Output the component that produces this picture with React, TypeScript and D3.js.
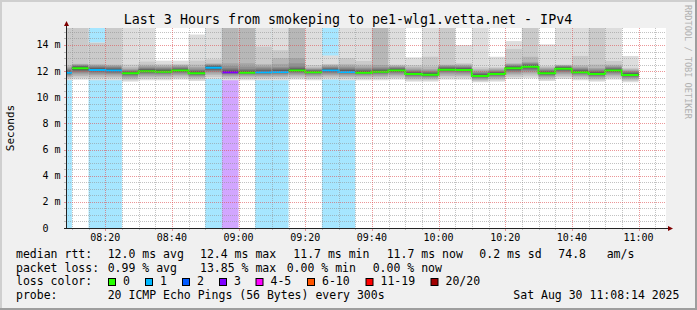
import React from 'react';
import * as d3 from 'd3';

const W = 697;
const H = 310;

const titleText = 'Last 3 Hours from smokeping to pe1-wlg1.vetta.net - IPv4';
const yAxisTitle = 'Seconds';
const watermark = 'RRDTOOL / TOBI OETIKER';

// window of the graph (UTC minutes used just as clock values)
const windowStart = '08:08:14';
const windowEnd = '11:08:14';

// 5-minute columns, labelled by their end time
const colEnd = [
  '08:10', '08:15', '08:20', '08:25', '08:30', '08:35', '08:40', '08:45', '08:50', '08:55',
  '09:00', '09:05', '09:10', '09:15', '09:20', '09:25', '09:30', '09:35', '09:40', '09:45',
  '09:50', '09:55', '10:00', '10:05', '10:10', '10:15', '10:20', '10:25', '10:30', '10:35',
  '10:40', '10:45', '10:50', '10:55', '11:00',
];

// number of lost pings (of 20) per column
const lossCount = [
  1, 0, 1, 1, 0, 0, 0, 0, 0, 1,
  3, 0, 1, 1, 0, 0, 1, 1, 0, 0,
  0, 0, 0, 0, 0, 0, 0, 0, 0, 0,
  0, 0, 0, 0, 0,
];

// median rtt per column (ms)
const medianMs = [
  11.88, 12.22, 12.09, 12.04, 11.84, 11.99, 11.96, 12.04, 11.84, 12.26,
  11.91, 11.88, 11.91, 11.94, 12.04, 11.91, 12.04, 11.94, 11.88, 11.96,
  12.04, 11.78, 11.73, 12.11, 12.09, 11.63, 11.78, 12.22, 12.34, 11.84,
  12.19, 11.91, 11.78, 12.04, 11.71,
];

// the 20 sorted ping times per column (ms)
const pings: number[][] = [
  [11.3, 11.42, 11.52, 11.6, 11.68, 11.75, 11.8, 11.84, 11.86, 11.87, 11.89, 11.93, 11.98, 12.05, 12.12, 12.2, 12.3, 12.45, 16, 18],
  [11.35, 11.5, 11.62, 11.75, 11.85, 11.95, 12.03, 12.1, 12.16, 12.2, 12.24, 12.28, 12.33, 12.38, 12.43, 12.48, 12.52, 12.56, 16, 18],
  [11.3, 11.45, 11.58, 11.7, 11.8, 11.9, 11.97, 12.02, 12.06, 12.08, 12.1, 12.14, 12.2, 12.26, 12.33, 12.4, 12.47, 12.55, 14.15, 14.2],
  [11.3, 11.45, 11.57, 11.68, 11.78, 11.86, 11.93, 11.98, 12.01, 12.03, 12.05, 12.1, 12.16, 12.22, 12.3, 12.37, 12.44, 12.5, 16, 18],
  [11.2, 11.3, 11.4, 11.5, 11.6, 11.68, 11.74, 11.78, 11.81, 11.83, 11.85, 11.88, 11.93, 11.98, 12.04, 12.1, 12.18, 12.3, 12.5, 17],
  [11.3, 11.42, 11.54, 11.65, 11.75, 11.83, 11.89, 11.93, 11.96, 11.98, 12.0, 12.04, 12.1, 12.16, 12.23, 12.3, 12.4, 12.5, 12.73, 17],
  [11.3, 11.42, 11.54, 11.64, 11.74, 11.81, 11.87, 11.91, 11.94, 11.95, 11.97, 12.01, 12.07, 12.13, 12.2, 12.28, 12.36, 12.45, 12.55, 12.8],
  [11.35, 11.48, 11.6, 11.7, 11.8, 11.88, 11.94, 11.98, 12.01, 12.03, 12.05, 12.09, 12.14, 12.2, 12.27, 12.34, 12.42, 12.48, 12.55, 12.8],
  [11.25, 11.36, 11.46, 11.55, 11.63, 11.7, 11.75, 11.79, 11.82, 11.83, 11.85, 11.89, 11.95, 12.02, 12.1, 12.2, 12.32, 12.5, 12.8, 14.8],
  [11.4, 11.55, 11.7, 11.82, 11.93, 12.02, 12.1, 12.16, 12.21, 12.25, 12.27, 12.31, 12.36, 12.41, 12.46, 12.5, 12.55, 12.6, 12.9, 17],
  [11.3, 11.42, 11.53, 11.63, 11.72, 11.8, 11.85, 11.88, 11.9, 11.91, 11.92, 11.96, 12.03, 12.12, 12.22, 12.4, 12.6, 16, 17, 18],
  [11.3, 11.42, 11.53, 11.63, 11.71, 11.78, 11.83, 11.86, 11.87, 11.88, 11.89, 11.93, 11.99, 12.07, 12.17, 12.35, 12.6, 16, 17, 18],
  [11.3, 11.42, 11.53, 11.63, 11.72, 11.8, 11.85, 11.88, 11.9, 11.91, 11.92, 11.96, 12.02, 12.1, 12.2, 12.3, 12.42, 12.55, 13.87, 17],
  [11.3, 11.43, 11.55, 11.65, 11.74, 11.82, 11.88, 11.91, 11.93, 11.94, 11.95, 11.99, 12.05, 12.13, 12.22, 12.32, 12.55, 13.0, 13.6, 17],
  [11.35, 11.48, 11.6, 11.7, 11.8, 11.88, 11.94, 11.98, 12.01, 12.03, 12.05, 12.1, 12.17, 12.25, 12.35, 12.6, 13.0, 16, 17, 18],
  [11.3, 11.42, 11.53, 11.63, 11.72, 11.8, 11.85, 11.88, 11.9, 11.91, 11.92, 11.96, 12.0, 12.05, 12.1, 12.16, 12.22, 12.3, 12.47, 17],
  [11.35, 11.48, 11.6, 11.7, 11.8, 11.88, 11.94, 11.98, 12.01, 12.03, 12.05, 12.09, 12.14, 12.2, 12.27, 12.34, 12.42, 12.5, 12.55, 13.2],
  [11.3, 11.43, 11.55, 11.65, 11.74, 11.82, 11.88, 11.91, 11.93, 11.94, 11.95, 11.99, 12.05, 12.12, 12.2, 12.3, 12.42, 12.55, 13.0, 17],
  [11.3, 11.42, 11.53, 11.63, 11.71, 11.78, 11.83, 11.86, 11.87, 11.88, 11.89, 11.93, 11.99, 12.06, 12.14, 12.23, 12.35, 12.5, 12.78, 17],
  [11.3, 11.42, 11.54, 11.64, 11.74, 11.81, 11.87, 11.91, 11.94, 11.95, 11.97, 12.01, 12.06, 12.12, 12.2, 12.3, 12.47, 16, 17, 18],
  [11.35, 11.48, 11.6, 11.7, 11.8, 11.88, 11.94, 11.98, 12.01, 12.03, 12.05, 12.09, 12.14, 12.2, 12.26, 12.32, 12.38, 12.44, 12.5, 17],
  [11.2, 11.3, 11.4, 11.5, 11.58, 11.65, 11.7, 11.74, 11.76, 11.77, 11.79, 11.83, 11.88, 11.95, 12.02, 12.1, 12.2, 12.33, 12.47, 13.05],
  [11.2, 11.3, 11.38, 11.46, 11.54, 11.6, 11.65, 11.69, 11.71, 11.72, 11.74, 11.78, 11.84, 11.9, 11.97, 12.05, 12.15, 12.35, 13.1, 17],
  [11.35, 11.5, 11.63, 11.75, 11.85, 11.94, 12.01, 12.06, 12.09, 12.1, 12.12, 12.16, 12.21, 12.27, 12.33, 12.4, 12.45, 12.5, 16, 18],
  [11.35, 11.5, 11.62, 11.73, 11.83, 11.92, 11.99, 12.04, 12.07, 12.08, 12.1, 12.14, 12.19, 12.25, 12.31, 12.38, 12.45, 12.52, 12.6, 14.0],
  [11.15, 11.23, 11.3, 11.37, 11.44, 11.5, 11.55, 11.59, 11.61, 11.62, 11.64, 11.68, 11.73, 11.8, 11.87, 11.95, 12.05, 12.15, 12.3, 17],
  [11.2, 11.3, 11.4, 11.5, 11.58, 11.65, 11.7, 11.74, 11.76, 11.77, 11.79, 11.83, 11.88, 11.93, 11.99, 12.06, 12.14, 12.22, 12.3, 13.1],
  [11.4, 11.55, 11.68, 11.8, 11.9, 11.99, 12.07, 12.13, 12.18, 12.21, 12.23, 12.27, 12.32, 12.37, 12.43, 12.49, 12.55, 12.6, 13.7, 14.3],
  [11.45, 11.6, 11.75, 11.88, 12.0, 12.1, 12.19, 12.26, 12.31, 12.33, 12.35, 12.39, 12.44, 12.5, 12.56, 12.62, 12.7, 13.1, 16, 18],
  [11.25, 11.36, 11.46, 11.55, 11.63, 11.7, 11.75, 11.79, 11.82, 11.83, 11.85, 11.89, 11.94, 12.0, 12.07, 12.14, 12.22, 12.3, 12.4, 14.05],
  [11.4, 11.54, 11.66, 11.78, 11.88, 11.97, 12.05, 12.11, 12.16, 12.18, 12.2, 12.24, 12.28, 12.32, 12.36, 12.4, 12.44, 12.47, 12.5, 17],
  [11.3, 11.42, 11.53, 11.63, 11.72, 11.8, 11.85, 11.88, 11.9, 11.91, 11.92, 11.96, 12.02, 12.09, 12.16, 12.24, 12.33, 12.45, 13.16, 17],
  [11.2, 11.3, 11.4, 11.5, 11.58, 11.65, 11.7, 11.74, 11.76, 11.77, 11.79, 11.84, 11.9, 11.97, 12.05, 12.14, 12.24, 12.5, 16, 18],
  [11.35, 11.48, 11.6, 11.7, 11.8, 11.88, 11.94, 11.98, 12.01, 12.03, 12.05, 12.09, 12.14, 12.2, 12.27, 12.34, 12.42, 12.5, 12.78, 17],
  [11.15, 11.25, 11.34, 11.42, 11.5, 11.57, 11.62, 11.66, 11.69, 11.7, 11.72, 11.76, 11.81, 11.87, 11.94, 12.01, 12.08, 12.16, 12.25, 13.16],
];

const yTicks = [0, 2, 4, 6, 8, 10, 12, 14];
const yTickLabels = ['0  ', '2 m', '4 m', '6 m', '8 m', '10 m', '12 m', '14 m'];

const lossLabels = ['0', '1', '2', '3', '4-5', '6-10', '11-19', '20/20'];
const lossColors = ['#26ff00', '#00b8ff', '#0059ff', '#7e00ff', '#ff00ff', '#ff5500', '#ff0000', '#a10000'];
const lossUpper = [0, 1, 2, 3, 5, 10, 19, 20];

const rttHead = 'median rtt:';
const rttItems = ['12.0 ms avg', '12.4 ms max', '11.7 ms min', '11.7 ms now', '0.2 ms sd', '74.8', 'am/s'];
const lossHead = 'packet loss:';
const lossItems = ['0.99 % avg', '13.85 % max', '0.00 % min', '0.00 % now'];
const colorHead = 'loss color:';
const probeHead = 'probe:';
const probeText = '20 ICMP Echo Pings (56 Bytes) every 300s';
const stampText = 'Sat Aug 30 11:08:14 2025';

const MONO = '"DejaVu Sans Mono", monospace';

function clock(s: string): Date {
  const [h, m, sec] = s.split(':').map(Number);
  return new Date(Date.UTC(2025, 7, 30, h, m, sec || 0));
}

function lossClass(n: number): number {
  for (let i = 0; i < lossUpper.length; i++) if (n <= lossUpper[i]) return i;
  return lossUpper.length - 1;
}

export default function App() {
  const plotL = 66;
  const plotR = 666;
  const plotT = 28;
  const plotB = 228;

  const t0 = clock(windowStart);
  const t1 = clock(windowEnd);
  const x = d3.scaleUtc().domain([t0, t1]).range([plotL, plotR]);
  const y = d3.scaleLinear().domain([0, 15.3]).range([plotB, plotT]);
  const fmt = d3.utcFormat('%H:%M');

  const cols = colEnd.map((e, k) => {
    const end = clock(e);
    const start = d3.utcMinute.offset(end, -5);
    return { k, x0: x(start), x1: x(end), loss: lossCount[k], med: medianMs[k], p: pings[k], cls: lossClass(lossCount[k]) };
  });

  const smokeShade = (i: number) => {
    const c = Math.floor((190 / 10) * (10 - (i + 1))) + 50;
    return `rgb(${c},${c},${c})`;
  };

  // median line runs, grouped by loss class
  const runs: { d: string; color: string }[] = [];
  let cur: { d: string; color: string } | null = null;
  cols.forEach((c, idx) => {
    const ym = y(c.med);
    if (cur && idx > 0 && cols[idx - 1].cls === c.cls) {
      cur.d += `L${c.x0},${ym}L${c.x1},${ym}`;
    } else {
      cur = { d: `M${c.x0},${ym}L${c.x1},${ym}`, color: lossColors[c.cls] };
      runs.push(cur);
    }
  });

  const minorY = d3.range(0.5, 15.3, 0.5).filter((v) => Math.abs(v % 2) > 1e-9);
  const majorY = yTicks.filter((v) => v > 0);
  const minorX = d3.utcMinute.every(5)!.range(t0, t1).filter((d) => d.getUTCMinutes() % 20 !== 0);
  const majorX = d3.utcMinute.every(20)!.range(t0, t1);

  const px = (v: number) => Math.round(v) + 0.5;

  const minorCol = 'rgba(143,143,143,0.55)';
  const majorCol = 'rgba(222,80,84,0.6)';

  const rttX = [107.7, 200, 293.3, 386.7, 479.3, 558.3, 606.7];
  const lossX = [107.7, 200, 286.7, 372.7];
  const boxX = [108.5, 145.5, 182.5, 219.5, 256, 307.5, 366, 431];
  const row = [258, 271.7, 285.4, 299];

  return (
    <svg width={W} height={H} style={{ position: 'absolute', left: 0, top: 0, display: 'block' }} fontFamily={MONO}>
      <defs>
        <clipPath id="plotclip">
          <rect x={plotL} y={plotT} width={plotR - plotL} height={plotB - plotT} />
        </clipPath>
      </defs>
      <rect x={0} y={0} width={W} height={H} fill="#f0f0f0" />
      <rect x={0} y={0} width={W} height={2} fill="#cfcfcf" />
      <rect x={0} y={0} width={2} height={H} fill="#cfcfcf" />
      <rect x={0} y={H - 2} width={W} height={2} fill="#9e9e9e" />
      <rect x={W - 2} y={0} width={2} height={H} fill="#9e9e9e" />

      <text x={348} y={24} textAnchor="middle" fontSize={13.3} fill="#000">{titleText}</text>
      <text transform="translate(685,5) rotate(90)" fontSize={8.6} fill="#b0b0b0">{watermark}</text>

      <rect x={plotL} y={plotT} width={plotR - plotL} height={plotB - plotT} fill="#ffffff" />

      <g clipPath="url(#plotclip)">
        {cols.filter((c) => c.loss > 0).map((c) => (
          <rect key={'bg' + c.k} x={c.x0} y={plotT} width={c.x1 - c.x0} height={plotB - plotT}
            fill={lossColors[c.cls]} fillOpacity={0.35} />
        ))}
        {cols.map((c) => (
          <g key={'s' + c.k}>
            {d3.range(10).map((i) => {
              const lo = c.p[i];
              const hi = c.p[19 - i];
              return (
                <rect key={i} x={c.x0} width={c.x1 - c.x0} y={y(hi)} height={y(lo) - y(hi)} fill={smokeShade(i)} />
              );
            })}
          </g>
        ))}
        {runs.map((r, i) => (
          <path key={'m' + i} d={r.d} fill="none" stroke={r.color} strokeWidth={2} />
        ))}
      </g>

      {/* grid */}
      <g>
        {minorY.map((v) => (
          <line key={'my' + v} x1={plotL} x2={plotR} y1={px(y(v))} y2={px(y(v))} stroke={minorCol} strokeDasharray="1 1" />
        ))}
        {minorX.map((d) => (
          <line key={'mx' + +d} x1={px(x(d))} x2={px(x(d))} y1={plotT} y2={plotB} stroke={minorCol} strokeDasharray="1 1" />
        ))}
        {majorY.map((v) => (
          <line key={'My' + v} x1={plotL} x2={plotR} y1={px(y(v))} y2={px(y(v))} stroke={majorCol} strokeDasharray="1 1" />
        ))}
        {majorX.map((d) => (
          <line key={'Mx' + +d} x1={px(x(d))} x2={px(x(d))} y1={plotT} y2={plotB} stroke={majorCol} strokeDasharray="1 1" />
        ))}
        {minorY.map((v) => (
          <line key={'ty' + v} x1={plotL - 2} x2={plotL} y1={px(y(v))} y2={px(y(v))} stroke={minorCol} />
        ))}
        {majorY.map((v) => (
          <line key={'tY' + v} x1={plotL - 2} x2={plotL} y1={px(y(v))} y2={px(y(v))} stroke={majorCol} />
        ))}
        {minorX.map((d) => (
          <line key={'tx' + +d} x1={px(x(d))} x2={px(x(d))} y1={plotB} y2={plotB + 2} stroke={minorCol} />
        ))}
        {majorX.map((d) => (
          <line key={'tX' + +d} x1={px(x(d))} x2={px(x(d))} y1={plotB} y2={plotB + 3} stroke={majorCol} />
        ))}
      </g>

      {/* axes */}
      <line x1={plotL + 0.5} x2={plotL + 0.5} y1={plotB + 1} y2={23} stroke="#222" />
      <line x1={plotL - 2} x2={669} y1={plotB + 0.5} y2={plotB + 0.5} stroke="#222" />
      <path d={`M${plotL - 2},26 L${plotL + 3},26 L${plotL + 0.5},21 Z`} fill="#7f0000" />
      <path d={`M668,${plotB - 2} L668,${plotB + 3} L673,${plotB + 0.5} Z`} fill="#7f0000" />

      {yTicks.map((v, i) => (
        <text key={'yl' + v} x={60.5} y={y(v) + 3.5} textAnchor="end" fontSize={10} fill="#000" style={{ whiteSpace: 'pre' }}>
          {yTickLabels[i]}
        </text>
      ))}
      {majorX.map((d) => (
        <text key={'xl' + +d} x={x(d)} y={241} textAnchor="middle" fontSize={10} fill="#000">{fmt(d)}</text>
      ))}
      <text transform="translate(14,128) rotate(-90)" textAnchor="middle" fontSize={11} fill="#000">{yAxisTitle}</text>

      {/* legend */}
      <g fontSize={11.5} fill="#000" style={{ whiteSpace: 'pre' }}>
        <text x={16} y={row[0]}>{rttHead}</text>
        {rttItems.map((s, i) => (<text key={'r' + i} x={rttX[i]} y={row[0]}>{s}</text>))}
        <text x={16} y={row[1]}>{lossHead}</text>
        {lossItems.map((s, i) => (<text key={'l' + i} x={lossX[i]} y={row[1]}>{s}</text>))}
        <text x={16} y={row[2]}>{colorHead}</text>
        {lossLabels.map((s, i) => (
          <g key={'c' + i}>
            <rect x={boxX[i]} y={278.5} width={7} height={7} fill={lossColors[i]} stroke="#000" strokeWidth={1} />
            <text x={boxX[i] + 14.5} y={row[2]}>{s}</text>
          </g>
        ))}
        <text x={16} y={row[3]}>{probeHead}</text>
        <text x={107.7} y={row[3]}>{probeText}</text>
        <text x={513.3} y={row[3]}>{stampText}</text>
      </g>
    </svg>
  );
}
